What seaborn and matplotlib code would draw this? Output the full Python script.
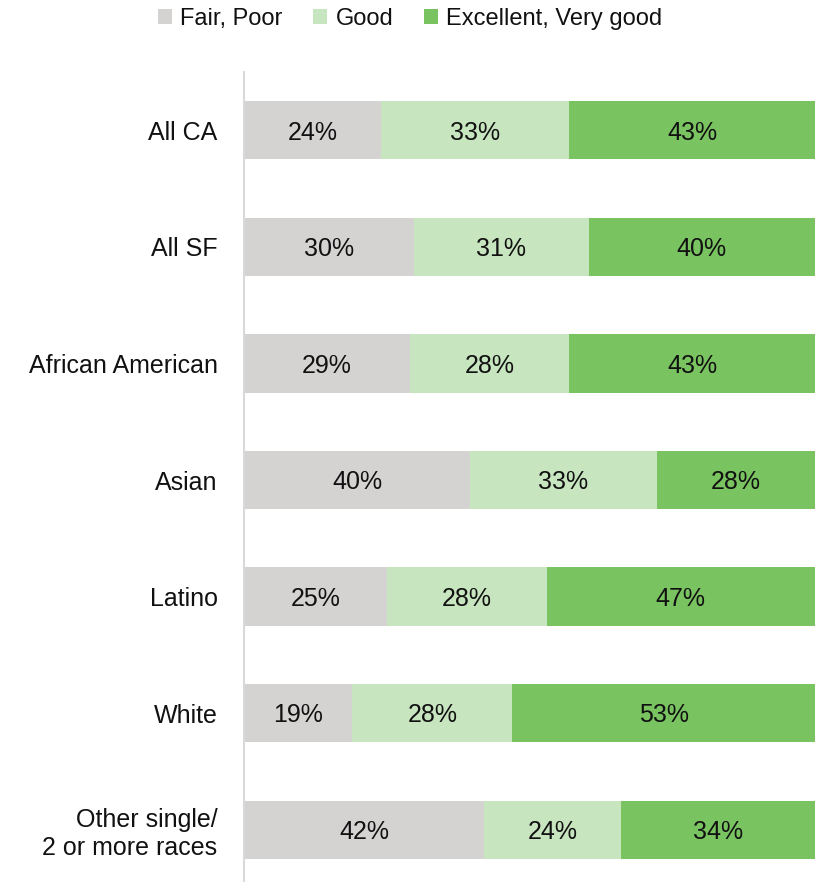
import matplotlib
matplotlib.use("Agg")
import matplotlib.pyplot as plt
import seaborn as sns
import pandas as pd
import numpy as np
from matplotlib.patches import Patch

groups = ["All CA", "All SF", "African American", "Asian", "Latino", "White",
          "Other single/\n2 or more races"]
fair_poor = [24, 30, 29, 40, 25, 19, 42]
good = [33, 31, 28, 33, 28, 28, 24]
excellent = [43, 40, 43, 28, 47, 53, 34]

series_names = ["Fair, Poor", "Good", "Excellent, Very good"]
colors = ["#D5D2D2", "#C7E5BF", "#79C361"]

sns.set_theme(style="white")
plt.rcParams["font.family"] = ["Liberation Sans", "DejaVu Sans"]
FS = 18

df = pd.DataFrame({"group": groups, "fair": fair_poor, "good": good, "exc": excellent})
total = df[["fair", "good", "exc"]].sum(axis=1)
share = df[["fair", "good", "exc"]].div(total, axis=0) * 100
df["c1"] = share["fair"]
df["c2"] = share["fair"] + share["good"]
df["c3"] = share["fair"] + share["good"] + share["exc"]

fig = plt.figure(figsize=(8.17, 8.82), dpi=100)
ax = fig.add_axes([244 / 817, -6 / 882, 571 / 817, 816 / 882])

# stacked bars drawn back to front from cumulative shares
for col, color in zip(["c3", "c2", "c1"], colors[::-1]):
    sns.barplot(data=df, y="group", x=col, orient="h", color=color,
                width=0.5, ax=ax, saturation=1, linewidth=0)

# centred value labels
for i, row in df.iterrows():
    starts = [0, row["c1"], row["c2"]]
    ends = [row["c1"], row["c2"], row["c3"]]
    vals = [row["fair"], row["good"], row["exc"]]
    for s, e, v in zip(starts, ends, vals):
        ax.text((s + e) / 2, i + 0.02, f"{v}%", ha="center", va="center",
                fontsize=FS, color="#111111")

ax.set_xlim(0, 100)
ax.set_ylim(6.5, -0.5)
ax.set_xlabel("")
ax.set_ylabel("")
ax.set_xticks([])
ax.tick_params(axis="y", length=0, pad=19, labelsize=FS, labelcolor="#111111")
for lbl in ax.get_yticklabels():
    lbl.set_horizontalalignment("right")
for side in ["top", "right", "bottom"]:
    ax.spines[side].set_visible(False)
ax.spines["left"].set_color("#D9D9D9")
ax.spines["left"].set_linewidth(1.5)

handles = [Patch(facecolor=c, edgecolor="none") for c in colors]
fig.legend(handles, series_names, loc="center", bbox_to_anchor=(410 / 817, 1 - 19 / 882),
           ncol=3, frameon=False, fontsize=17, handlelength=0.6, handleheight=0.6,
           handletextpad=0.35, columnspacing=1.3, labelcolor="#111111")

fig.savefig("out.png", dpi=100)
